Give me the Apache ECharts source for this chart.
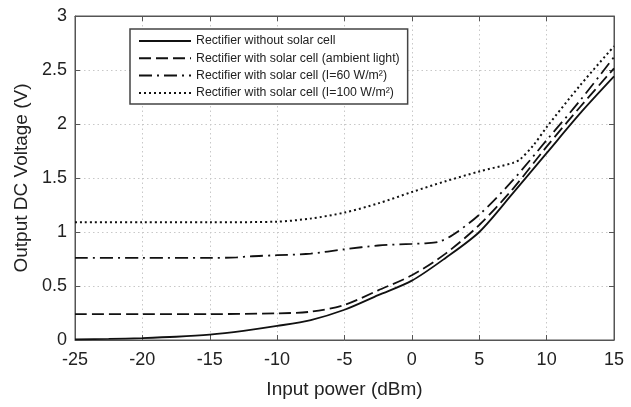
<!DOCTYPE html>
<html>
<head>
<meta charset="utf-8">
<script src="https://cdn.jsdelivr.net/npm/echarts@6/dist/echarts.min.js"></script>
<style>
html,body{margin:0;padding:0;background:#fff;}
#chart{width:631px;height:407px;}
</style>
</head>
<body>
<div id="chart"></div>
<script>
// ---- Data ----
const seriesNames = [
  'Rectifier without solar cell',
  'Rectifier with solar cell (ambient light)',
  'Rectifier with solar cell (I=60 W/m\u00B2)',
  'Rectifier with solar cell (I=100 W/m\u00B2)'
];

const xNoSolar = [-25, -22.5, -20, -17.5, -15, -12.5, -10, -7.5, -5, -2.5, 0, 2.5, 5, 7.5, 10, 12.5, 15];
const yNoSolar = [0.005, 0.01, 0.018, 0.03, 0.05, 0.085, 0.13, 0.185, 0.28, 0.415, 0.55, 0.76, 1.0, 1.36, 1.73, 2.1, 2.44];

const xAmbient = [-25, -20, -15, -10, -7.5, -5, -2.5, 0, 2.5, 5, 7.5, 10, 12.5, 15];
const yAmbient = [0.24, 0.24, 0.24, 0.247, 0.262, 0.325, 0.46, 0.6, 0.8, 1.065, 1.4, 1.79, 2.16, 2.515];

const xI60 = [-25, -20, -15, -13, -12, -10, -7.5, -5, -2.5, 0, 1, 2, 3, 5, 7.5, 10, 12.5, 15];
const yI60 = [0.76, 0.76, 0.76, 0.765, 0.775, 0.785, 0.80, 0.84, 0.875, 0.89, 0.895, 0.91, 0.97, 1.16, 1.48, 1.85, 2.22, 2.62];

const xI100 = [-25, -20, -15, -10, -7.5, -5, -2.5, 0, 2.5, 5, 7.5, 8, 9, 10, 12.5, 15];
const yI100 = [1.09, 1.09, 1.09, 1.096, 1.125, 1.18, 1.265, 1.37, 1.47, 1.56, 1.64, 1.67, 1.8, 1.97, 2.36, 2.72];

const xTicks = [-25, -20, -15, -10, -5, 0, 5, 10, 15];
const yTicks = [0, 0.5, 1, 1.5, 2, 2.5, 3];

const xTitle = 'Input power (dBm)';
const yTitle = 'Output DC Voltage (V)';

// ---- Build ----
function zip(xs, ys) { return xs.map((x, i) => [x, ys[i]]); }

const FONT = 'Liberation Sans, Arial, sans-serif';
const TEXT = '#222';
const AXIS = '#555';

const dashes = ['solid', [12, 5], [13, 5, 2, 5], [2, 3]];
const xs = [xNoSolar, xAmbient, xI60, xI100];
const ys = [yNoSolar, yAmbient, yI60, yI100];

const series = seriesNames.map((name, i) => ({
  name: name,
  type: 'line',
  xAxisIndex: 0,
  yAxisIndex: 0,
  data: zip(xs[i], ys[i]),
  symbol: 'none',
  smooth: 0.3,
  lineStyle: { color: '#111', width: i === 3 ? 2 : 1.8, type: dashes[i] },
  itemStyle: { color: '#111' },
  animation: false
}));

const chart = echarts.init(document.getElementById('chart'), null, { renderer: 'canvas' });

const commonTick = { show: true, inside: true, length: 5, lineStyle: { color: AXIS, width: 1 } };
const edgeLine = { show: true, onZero: false, lineStyle: { color: AXIS, width: 1 } };

chart.setOption({
  backgroundColor: '#fff',
  animation: false,
  textStyle: { fontFamily: FONT },
  grid: {
    left: 75, right: 17, top: 16, bottom: 67,
    show: true, borderColor: AXIS, borderWidth: 1, backgroundColor: 'transparent'
  },
  legend: {
    orient: 'vertical',
    left: 130, top: 29,
    padding: [6, 8, 5, 8],
    itemWidth: 52, itemHeight: 14, itemGap: 5.3,
    borderColor: '#444', borderWidth: 1.5,
    backgroundColor: '#fff',
    itemStyle: { color: 'transparent', borderWidth: 0, opacity: 0 },
    textStyle: { fontFamily: FONT, fontSize: 12.3, color: TEXT },
    data: seriesNames
  },
  xAxis: [{
    type: 'value', min: xTicks[0], max: xTicks[xTicks.length - 1], interval: 5,
    name: xTitle, nameLocation: 'middle', nameGap: 40,
    nameTextStyle: { fontFamily: FONT, fontSize: 19, color: TEXT },
    axisLine: edgeLine,
    axisTick: commonTick,
    axisLabel: { fontFamily: FONT, fontSize: 18, color: TEXT, margin: 11 },
    splitLine: { show: true, lineStyle: { color: '#c8c8c8', type: [1.5, 3], width: 1 } }
  }, {
    type: 'value', position: 'top', min: xTicks[0], max: xTicks[xTicks.length - 1], interval: 5,
    axisLine: edgeLine,
    axisTick: commonTick, axisLabel: { show: false }, splitLine: { show: false }
  }],
  yAxis: [{
    type: 'value', min: yTicks[0], max: yTicks[yTicks.length - 1], interval: 0.5,
    name: yTitle, nameLocation: 'middle', nameGap: 43,
    nameTextStyle: { fontFamily: FONT, fontSize: 19, color: TEXT },
    axisLine: edgeLine,
    axisTick: commonTick,
    axisLabel: { fontFamily: FONT, fontSize: 18, color: TEXT, margin: 8 },
    splitLine: { show: true, lineStyle: { color: '#c8c8c8', type: [1.5, 3], width: 1 } }
  }, {
    type: 'value', position: 'right', min: yTicks[0], max: yTicks[yTicks.length - 1], interval: 0.5,
    axisLine: edgeLine,
    axisTick: commonTick, axisLabel: { show: false }, splitLine: { show: false }
  }],
  series: series
});
</script>
</body>
</html>
